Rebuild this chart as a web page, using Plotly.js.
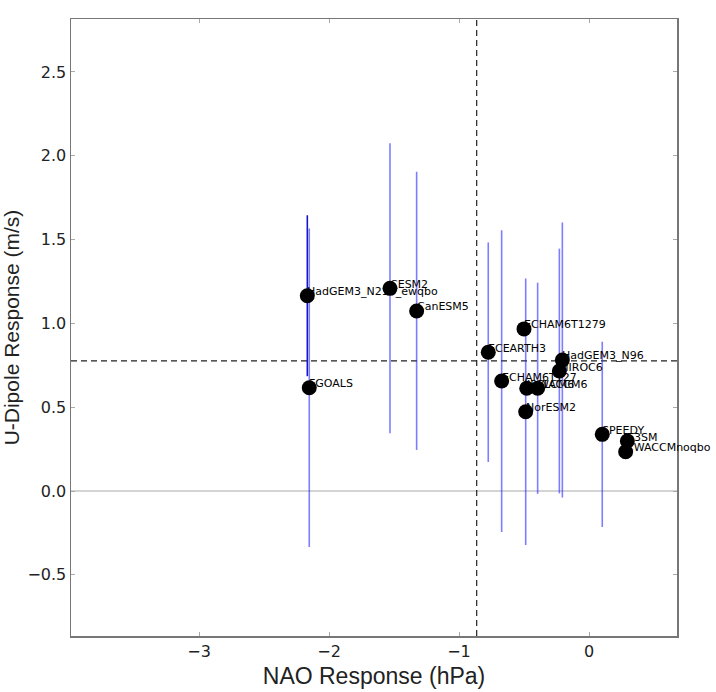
<!DOCTYPE html>
<html>
<head>
<meta charset="utf-8">
<script src="https://cdn.plot.ly/plotly-3.0.1.min.js"></script>
<style>
  html, body { margin: 0; padding: 0; background: #ffffff; }
  #chart { width: 716px; height: 692px; }
</style>
</head>
<body>
<div id="chart"></div>
<script>
// Model names
var models = ['HadGEM3_N216_ewqbo', 'FGOALS', 'CESM2', 'CanESM5', 'ECHAM6T1279', 'ECEARTH3',
              'ECHAM6T127', 'IPSLCM6', 'WACCM6', 'NorESM2', 'HadGEM3_N96', 'MIROC6',
              'SPEEDY', 'E3SM', 'CWACCMnoqbo'];
// NAO response (hPa)
var naoResponse = [-2.167, -2.152, -1.531, -1.326, -0.50, -0.775,
                   -0.672, -0.479, -0.395, -0.487, -0.205, -0.228,
                   0.102, 0.295, 0.282];
// U-dipole response (m/s)
var udipResponse = [1.165, 0.616, 1.209, 1.074, 0.967, 0.828,
                    0.656, 0.613, 0.613, 0.473, 0.782, 0.716,
                    0.338, 0.298, 0.234];
// Error bar half-lengths (m/s)
var udipError = [0.48, 0.95, 0.865, 0.83, 0, 0.655,
                 0.90, 0, 0.63, 0.795, 0.82, 0.73,
                 0.553, 0, 0];
// Multi-model reference values (dashed lines)
var naoMean = -0.864;
var udipMean = 0.776;

var xTicks = [-3, -2, -1, 0];
var yTicks = [-0.5, 0.0, 0.5, 1.0, 1.5, 2.0, 2.5];

var traces = [];
// error bars, one trace per model so colour can differ
for (var i = 0; i < models.length; i++) {
  var dark = (models[i] === 'HadGEM3_N216_ewqbo');
  traces.push({
    type: 'scatter', mode: 'markers',
    x: [naoResponse[i]], y: [udipResponse[i]],
    marker: {size: 1, color: 'rgba(0,0,0,0)'},
    error_y: {type: 'data', array: [udipError[i]], visible: udipError[i] > 0,
              color: dark ? 'rgba(10,10,200,0.95)' : 'rgba(40,40,255,0.6)',
              thickness: 1.6, width: 0},
    hoverinfo: 'skip', showlegend: false
  });
}
// markers
traces.push({
  type: 'scatter', mode: 'markers',
  x: naoResponse, y: udipResponse,
  marker: {size: 15, color: '#000000'},
  showlegend: false
});

var labelAnnotations = models.map(function (m, i) {
  return {
    x: naoResponse[i], y: udipResponse[i], xref: 'x', yref: 'y',
    text: m, showarrow: false, xanchor: 'left', yanchor: 'middle',
    xshift: -1, yshift: 4, borderpad: 0,
    font: {family: 'DejaVu Sans', size: 11, color: '#000000'}
  };
});

var axisCommon = {
  showgrid: false, zeroline: false,
  showline: true, linecolor: '#777777', linewidth: 1.5, mirror: 'ticks',
  ticks: 'inside', ticklen: 4, tickcolor: '#aaaaaa', tickwidth: 1,
  tickfont: {family: 'DejaVu Sans', size: 16, color: '#222222'}
};

var layout = {
  width: 716, height: 692,
  margin: {l: 71, r: 39, t: 19, b: 56},
  paper_bgcolor: '#ffffff', plot_bgcolor: '#ffffff',
  showlegend: false,
  annotations: labelAnnotations,
  xaxis: Object.assign({}, axisCommon, {
    range: [-3.985, 0.677],
    tickvals: xTicks, ticktext: xTicks.map(function (v) { return v < 0 ? '\u2212' + Math.abs(v) : String(v); }),
    title: {text: 'NAO Response (hPa)', font: {family: 'Liberation Sans', size: 23, color: '#222222'}, standoff: 8}
  }),
  yaxis: Object.assign({}, axisCommon, {
    range: [-0.865, 2.816],
    tickvals: yTicks, ticktext: yTicks.map(function (v) { return (v < 0 ? '\u2212' : '') + Math.abs(v).toFixed(1); }),
    title: {text: 'U-Dipole Response (m/s)', font: {family: 'Liberation Sans', size: 21, color: '#222222'}, standoff: 12}
  }),
  shapes: [
    {type: 'line', xref: 'paper', x0: 0, x1: 1, yref: 'y', y0: 0, y1: 0,
     line: {color: '#aaaaaa', width: 1.2}, layer: 'below'},
    {type: 'line', xref: 'paper', x0: 0, x1: 1, yref: 'y', y0: udipMean, y1: udipMean,
     line: {color: '#222222', width: 1.2, dash: '6px,4px'}, layer: 'below'},
    {type: 'line', yref: 'paper', y0: 0, y1: 1, xref: 'x', x0: naoMean, x1: naoMean,
     line: {color: '#222222', width: 1.2, dash: '6px,4px'}, layer: 'below'}
  ]
};

Plotly.newPlot('chart', traces, layout, {displayModeBar: false, staticPlot: true});
</script>
</body>
</html>
